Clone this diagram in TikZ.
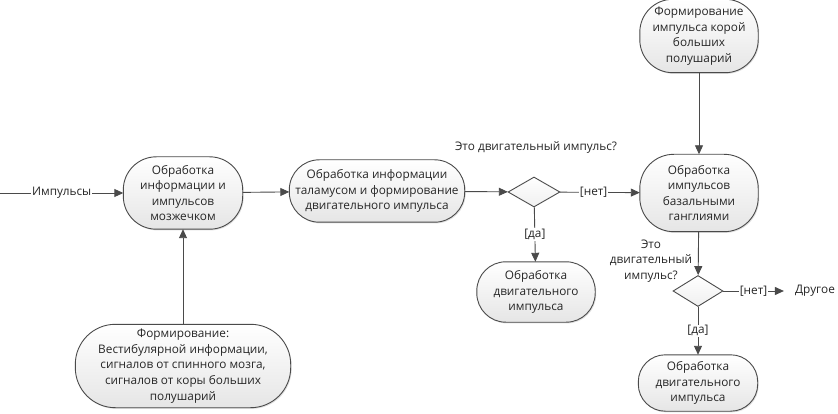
\documentclass[tikz,border=0pt]{standalone}
\usepackage{fontspec}
\setmainfont{Open Sans}
\usetikzlibrary{arrows.meta,shapes.geometric,shadows,backgrounds,calc}
\definecolor{edgec}{HTML}{4A4A4A}
\definecolor{txtc}{HTML}{262626}
\tikzset{
  act/.style={align=center, font=\fontsize{11.8}{15.6}\selectfont, text=txtc, inner sep=2pt},
  actbg/.style={draw=edgec, line width=0.9pt, top color=white, bottom color=black!10,
    drop shadow={opacity=0.25, shadow xshift=1pt, shadow yshift=-1.2pt}},
  dec/.style={draw=edgec, line width=0.9pt, diamond, aspect=1.7, top color=white, bottom color=black!6,
    minimum width=52pt, minimum height=30pt, inner sep=0pt},
  lbl/.style={font=\fontsize{11.8}{15.6}\selectfont, text=txtc, align=center},
  elbl/.style={lbl, fill=white, inner sep=1pt},
  flow/.style={draw=edgec, line width=0.9pt, -{Triangle[length=9pt,width=8pt]}},
}
\newcommand\rbox[2]{%
  \path[actbg] ($(#1.north west)+(#2,0)$) -- ($(#1.north east)+(-#2,0)$)
    .. controls ($(#1.north east)+(-#2*0.448,0)$) and ($(#1.north east)+(0,#2*0.448)$) .. ($(#1.north east)+(0,#2)$)
    -- ($(#1.south east)+(0,-#2)$)
    .. controls ($(#1.south east)+(0,-#2*0.448)$) and ($(#1.south east)+(-#2*0.448,0)$) .. ($(#1.south east)+(-#2,0)$)
    -- ($(#1.south west)+(#2,0)$)
    .. controls ($(#1.south west)+(#2*0.448,0)$) and ($(#1.south west)+(0,-#2*0.448)$) .. ($(#1.south west)+(0,-#2)$)
    -- ($(#1.north west)+(0,#2)$)
    .. controls ($(#1.north west)+(0,#2*0.448)$) and ($(#1.north west)+(#2*0.448,0)$) .. cycle;}
\begin{document}
\begin{tikzpicture}[x=1pt,y=-1pt]
\useasboundingbox (0,0) rectangle (838,414);
\node[act, minimum width=119pt, minimum height=72pt] (mozzh) at (183,193)
  {Обработка\\информации и\\импульсов\\мозжечком};
\node[act, minimum width=175pt, minimum height=62pt] (thal) at (377,191)
  {Обработка информации\\таламусом и формирование\\двигательного импульса};
\node[dec] (d1) at (534,192) {};
\node[act, minimum width=118pt, minimum height=73pt] (top) at (699,36)
  {Формирование\\импульса корой\\больших\\полушарий};
\node[act, minimum width=118pt, minimum height=77pt] (basal) at (699,193)
  {Обработка\\импульсов\\базальными\\ганглиями};
\node[act, minimum width=118pt, minimum height=60pt] (dv1) at (536,292)
  {Обработка\\двигательного\\импульса};
\node[dec, minimum width=50pt, minimum height=31pt] (d2) at (698,291) {};
\node[act, minimum width=119pt, minimum height=56pt] (dv2) at (698,383)
  {Обработка\\двигательного\\импульса};
\node[act, minimum width=215pt, minimum height=83pt] (form) at (183,366)
  {Формирование:\\Вестибулярной информации,\\сигналов от спинного мозга,\\сигналов от коры больших\\полушарий};
\node[lbl] (q1) at (536,147) {Это двигательный импульс?};
\node[lbl] (q2) at (651,261) {Это\\двигательный\\импульс?};
\node[lbl, inner sep=0pt] (other) at (815,291) {Другое};
\coordinate (start) at (0,193);

\begin{scope}[on background layer]
\rbox{mozzh}{33}
\rbox{thal}{30}
\rbox{top}{33}
\rbox{basal}{34}
\rbox{dv1}{29}
\rbox{dv2}{27}
\rbox{form}{40}
\end{scope}

\draw[flow] (start) -- node[elbl] {Импульсы} (mozzh);
\draw[flow] (mozzh) -- (thal);
\draw[flow] (thal) -- (d1);
\draw[flow] (d1) -- node[elbl, pos=0.42] {[нет]} (basal);
\draw[flow] (d1) -- node[elbl] {[да]} (dv1);
\draw[flow] (top) -- (basal);
\draw[flow] (basal) -- (d2);
\draw[flow, shorten >=11pt] (d2) -- node[elbl, pos=0.42] {[нет]} (other);
\draw[flow] (d2) -- node[elbl] {[да]} (dv2);
\draw[flow] (form) -- (mozzh);
\end{tikzpicture}
\end{document}
